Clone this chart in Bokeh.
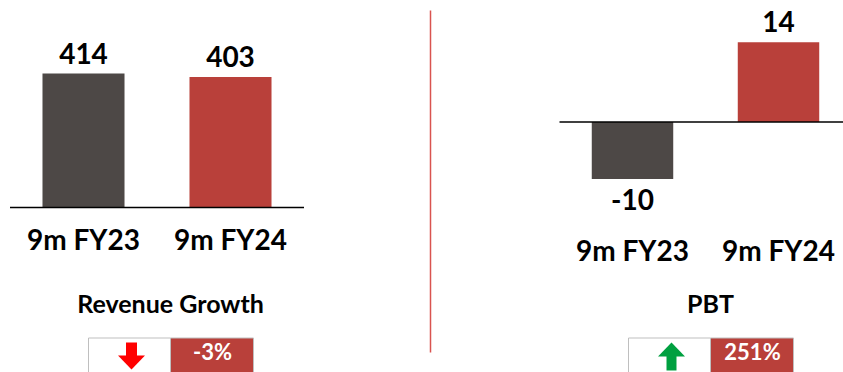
import numpy as np
from bokeh.plotting import figure
from bokeh.models import Range1d
from bokeh.core.properties import value
from bokeh.embed import file_html
from bokeh.resources import INLINE

# ---------------- data ----------------
categories = ["9m FY23", "9m FY24"]
revenue = [414, 403]
pbt = [-10, 14]
panel_titles = ["Revenue Growth", "PBT"]
changes = ["-3%", "251%"]
change_up = [False, True]
bar_colors = ["#4d4846", "#b9403a"]

FONT = value("Lato")
W, H = 843, 372
TOP, BOTTOM, LEFT, RIGHT = 0, H, 0, W   # page pixel extent of the figure


def lin_range(px_a, val_a, px_b, val_b, px_start, px_end):
    k = (val_b - val_a) / (px_b - px_a)
    return Range1d(start=val_a + (px_start - px_a) * k, end=val_a + (px_end - px_a) * k)


p = figure(width=W, height=H, output_backend="svg", toolbar_location=None,
           min_border=0, outline_line_color=None,
           x_range=Range1d(LEFT, RIGHT), y_range=Range1d(BOTTOM, TOP))
p.axis.visible = False
p.grid.visible = False
p.background_fill_color = "white"

# panel data ranges (layout: where the bars sit on the page)
p.extra_x_ranges = {
    "revx": lin_range(83, 0, 230, 1, LEFT, RIGHT),
    "pbtx": lin_range(632, 0, 778, 1, LEFT, RIGHT),
}
p.extra_y_ranges = {
    "revy": lin_range(207, 0, 73, 414, BOTTOM, TOP),
    "pbty": lin_range(121.5, 0, 178.5, -10, BOTTOM, TOP),
}

panels = [
    dict(vals=revenue, xr="revx", yr="revy", cat_y=238, title_x=170),
    dict(vals=pbt, xr="pbtx", yr="pbty", cat_y=249, title_x=710),
]

for i, pn in enumerate(panels):
    vals = np.array(pn["vals"], dtype=float)
    idx = np.arange(len(vals))
    p.vbar(x=idx, top=vals, bottom=0, width=0.558, fill_color=bar_colors,
           line_color=None, x_range_name=pn["xr"], y_range_name=pn["yr"])
    p.segment(x0=[-0.5], x1=[len(vals) - 0.5], y0=[0], y1=[0], line_color="black",
              line_width=1.6, x_range_name=pn["xr"], y_range_name=pn["yr"])
    pos = vals >= 0
    # value labels
    p.text(x=idx[pos], y=vals[pos], text=[f"{v:.0f}" for v in vals[pos]],
           text_align="center", text_baseline="bottom", y_offset=-10,
           text_font=FONT, text_font_style="bold", text_font_size="28px",
           text_color="black", x_range_name=pn["xr"], y_range_name=pn["yr"])
    if (~pos).any():
        p.text(x=idx[~pos], y=vals[~pos], text=[f"{v:.0f}" for v in vals[~pos]],
               text_align="center", text_baseline="top", y_offset=10,
               text_font=FONT, text_font_style="bold", text_font_size="28px",
               text_color="black", x_range_name=pn["xr"], y_range_name=pn["yr"])
    # category labels
    p.text(x=idx, y=[pn["cat_y"]] * len(idx), text=categories,
           text_align="center", text_baseline="middle",
           text_font=FONT, text_font_style="bold", text_font_size="28px",
           text_color="black", x_range_name=pn["xr"])
    # panel title
    tx = pn["title_x"]
    p.text(x=[tx], y=[302], text=[panel_titles[i]], text_align="center",
           text_baseline="middle", text_font=FONT, text_font_style="bold",
           text_font_size="25px", text_color="black")
    # change box
    p.quad(left=[tx - 82, tx], right=[tx, tx + 83], top=[337.5, 337.5], bottom=[380, 380],
           fill_color=["white", "#b9403a"], line_color="#bfbfbf", line_width=1)
    p.text(x=[tx + 42], y=[351], text=[changes[i]], text_align="center",
           text_baseline="middle", text_font=FONT, text_font_style="bold",
           text_font_size="22px", text_color="white")
    # arrow
    ax = tx - 39
    if change_up[i]:
        col = "#00a040"
        p.patch(x=[ax - 13.5, ax, ax + 13.5], y=[356, 342, 356], fill_color=col, line_color=None)
        p.quad(left=[ax - 5], right=[ax + 5], top=[355.5], bottom=[370], fill_color=col, line_color=None)
    else:
        col = "#ff0000"
        p.patch(x=[ax - 13.5, ax, ax + 13.5], y=[355, 369, 355], fill_color=col, line_color=None)
        p.quad(left=[ax - 5.5], right=[ax + 5.5], top=[342], bottom=[355.5], fill_color=col, line_color=None)

# divider
p.segment(x0=[430], x1=[430], y0=[10], y1=[352], line_color="#d9534f", line_width=1.5)

open("out.html", "w").write(file_html(p, INLINE))
